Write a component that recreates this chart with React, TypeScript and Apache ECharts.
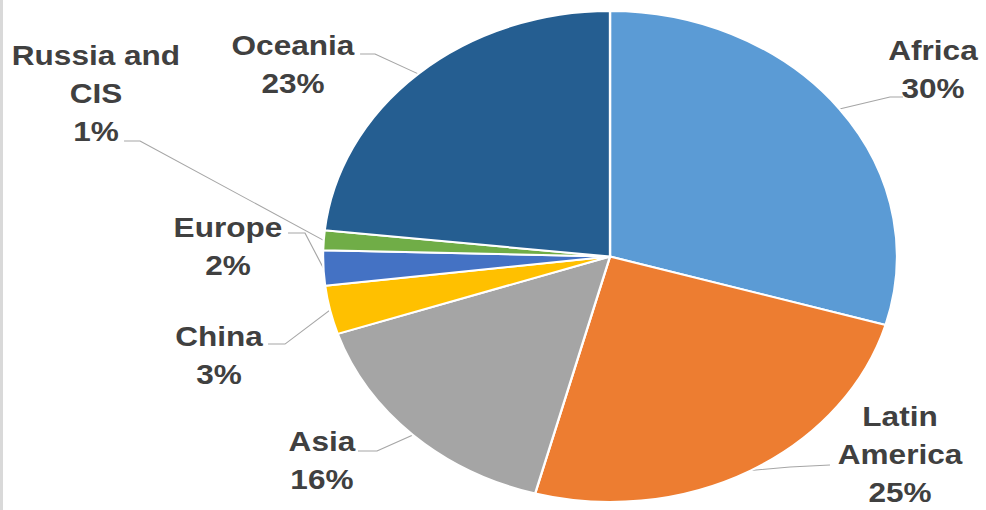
import React, { useEffect, useRef } from "react";
import * as echarts from "echarts";

// ---- data ----
const categories: string[] = [
  "Africa",
  "Latin\nAmerica",
  "Asia",
  "China",
  "Europe",
  "Russia and\nCIS",
  "Oceania",
];
const shares: number[] = [29.5, 24.7, 15.7, 3.2, 2.3, 1.3, 23.3];
const colors: string[] = [
  "#5B9BD5",
  "#ED7D31",
  "#A5A5A5",
  "#FFC000",
  "#4472C4",
  "#70AD47",
  "#255E91",
];

// ---- layout (the reference picture is stretched horizontally) ----
const STRETCH = 1.169;
const PAGE_W = 986;
const PAGE_H = 510;
const CHART_W = PAGE_W / STRETCH;

// label block centre and leader-line elbows, in unstretched chart pixels
const LABEL_LAYOUT: { x: number; y: number; p1: number[]; p2: number[] }[] = [
  { x: 798.1, y: 69, p1: [761.3, 97], p2: [772.5, 97] },
  { x: 769.9, y: 454, p1: [675.8, 467], p2: [710, 465] },
  { x: 275.4, y: 460.5, p1: [322.5, 451], p2: [306.2, 451] },
  { x: 187.3, y: 355, p1: [243.8, 344], p2: [229.3, 344] },
  { x: 195.0, y: 246, p1: [260.9, 233], p2: [246.4, 233] },
  { x: 82.1, y: 93, p1: [119.8, 141], p2: [106.1, 141] },
  { x: 250.6, y: 64.5, p1: [320.8, 54], p2: [308, 54] },
];

export default function App() {
  const ref = useRef<HTMLDivElement>(null);

  useEffect(() => {
    document.body.style.margin = "0";
    document.body.style.overflow = "hidden";
    if (!ref.current) return;
    const chart = echarts.init(ref.current, null, { renderer: "svg" });
    chart.setOption({
      animation: false,
      backgroundColor: "#ffffff",
      graphic: [
        {
          type: "rect",
          left: 0,
          top: 0,
          shape: { width: 3 / STRETCH, height: PAGE_H },
          style: { fill: "#d9d9d9" },
          silent: true,
        },
      ],
      series: [
        {
          type: "pie",
          center: [610 / STRETCH, 256.5],
          radius: 245.5,
          startAngle: 90,
          clockwise: true,
          percentPrecision: 0,
          avoidLabelOverlap: false,
          data: categories.map((name, i) => ({
            name,
            value: shares[i],
            itemStyle: { color: colors[i] },
          })),
          itemStyle: { borderColor: "#ffffff", borderWidth: 2 },
          label: {
            show: true,
            position: "outside",
            formatter: "{b}\n{d}%",
            fontFamily: "'Liberation Sans', Arial, sans-serif",
            fontWeight: "bold",
            fontSize: 27,
            lineHeight: 38,
            color: "#404040",
            align: "center",
          },
          labelLine: {
            show: true,
            length: 20,
            length2: 15,
            lineStyle: { color: "#a6a6a6", width: 1 },
          },
          labelLayout: (params: any) => {
            const L = LABEL_LAYOUT[params.dataIndex];
            const pts = params.labelLinePoints;
            const res: any = {
              x: L.x,
              y: L.y,
              align: "center",
              verticalAlign: "middle",
            };
            if (pts && pts[0]) {
              res.labelLinePoints = [pts[0], L.p1, L.p2];
            }
            return res;
          },
          emphasis: { disabled: true },
        },
      ],
    });
    return () => chart.dispose();
  }, []);

  return (
    <div
      ref={ref}
      style={{
        position: "absolute",
        left: 0,
        top: 0,
        width: CHART_W,
        height: PAGE_H,
        transform: `scaleX(${STRETCH})`,
        transformOrigin: "0 0",
      }}
    />
  );
}
